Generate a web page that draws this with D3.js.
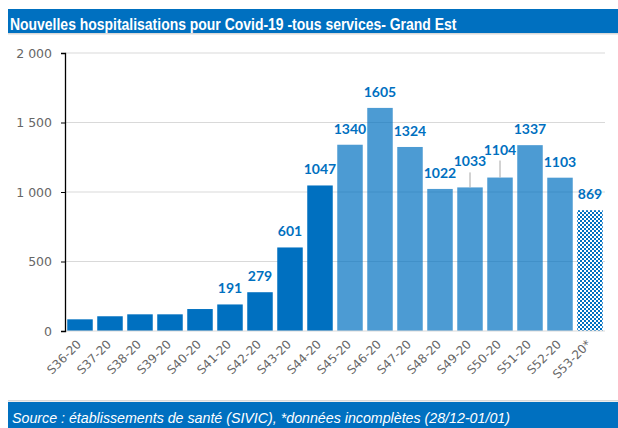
<!DOCTYPE html>
<html>
<head>
<meta charset="utf-8">
<script src="https://cdn.jsdelivr.net/npm/d3@7"></script>
<style>
  body { margin: 0; background: #fff; }
  svg { display: block; }
</style>
</head>
<body>
<svg width="618" height="428"></svg>
<script>
// weeks + new hospitalisations
var semaines = ["S36-20","S37-20","S38-20","S39-20","S40-20","S41-20","S42-20","S43-20","S44-20",
                "S45-20","S46-20","S47-20","S48-20","S49-20","S50-20","S51-20","S52-20","S53-20*"];
var hospit = [84, 106, 120, 120, 158, 191, 279, 601, 1047,
              1340, 1605, 1324, 1022, 1033, 1104, 1337, 1103, 869];
// which labels are shown ("" = none)
var etiquettes = ["", "", "", "", "", "191", "279", "601", "1047",
                  "1340", "1605", "1324", "1022", "1033", "1104", "1337", "1103", "869"];
// 0 = dark, 1 = light, 2 = incomplete (pattern)
var style = [0,0,0,0,0,0,0,0,0, 1,1,1,1,1,1,1,1, 2];
var yTicks = [0, 500, 1000, 1500, 2000];

var titre = "Nouvelles hospitalisations pour Covid-19 -tous services- Grand Est";
var source = "Source : établissements de santé (SIVIC), *données incomplètes (28/12-01/01)";

var svg = d3.select("svg");
var bleu = "#0070C0";

var defs = svg.append("defs");
var pat = defs.append("pattern").attr("id", "damier")
  .attr("width", 4).attr("height", 4).attr("patternUnits", "userSpaceOnUse");
pat.append("rect").attr("width", 4).attr("height", 4).attr("fill", "#fff");
pat.append("rect").attr("width", 2).attr("height", 2).attr("fill", bleu);
pat.append("rect").attr("x", 2).attr("y", 2).attr("width", 2).attr("height", 2).attr("fill", bleu);

// title band
svg.append("rect").attr("x", 8).attr("y", 9).attr("width", 610).attr("height", 24).attr("fill", bleu);
svg.append("rect").attr("x", 8).attr("y", 33).attr("width", 610).attr("height", 1.5).attr("fill", "#d9d9d9");
var t = svg.append("text").attr("x", 0).attr("y", 0)
  .attr("fill", "#fff").attr("font-family", "'Liberation Sans Narrow', 'Arial Narrow', 'Liberation Sans', Arial, sans-serif")
  .attr("font-weight", "bold").attr("font-size", 16.5).text(titre);
var tw = t.node().getComputedTextLength();
t.attr("transform", "translate(10,30) scale(" + (447 / tw) + ",1)");

// footer band
svg.append("rect").attr("x", 8).attr("y", 400).attr("width", 610).attr("height", 1.5).attr("fill", "#d9d9d9");
svg.append("rect").attr("x", 8).attr("y", 402).attr("width", 610).attr("height", 26).attr("fill", bleu);
var s = svg.append("text").attr("x", 12).attr("y", 422.5)
  .attr("fill", "#fff").attr("font-family", "'Liberation Sans', Arial, sans-serif")
  .attr("font-style", "italic").attr("font-size", 14).text(source);
var sw = s.node().getComputedTextLength();
s.attr("font-size", 14 * 498 / sw);

// scales
var x = d3.scaleBand().domain(semaines).range([65, 605]).paddingInner(0.15).paddingOuter(0.075);
var y = d3.scaleLinear().domain([0, 2000]).range([331, 53]);

// grid
svg.append("g").selectAll("line").data(yTicks.slice(1)).enter().append("line")
  .attr("x1", 65).attr("x2", 605)
  .attr("y1", function(d) { return y(d); }).attr("y2", function(d) { return y(d); })
  .attr("stroke", "#d9d9d9").attr("stroke-width", 1.2);

// bars
svg.append("g").selectAll("rect").data(hospit).enter().append("rect")
  .attr("x", function(d, i) { return x(semaines[i]); })
  .attr("y", function(d) { return y(d); })
  .attr("width", x.bandwidth())
  .attr("height", function(d) { return y(0) - y(d); })
  .attr("fill", function(d, i) { return style[i] == 2 ? "url(#damier)" : bleu; })
  .attr("fill-opacity", function(d, i) { return style[i] == 1 ? 0.7 : 1; });

// x axis line
svg.append("line").attr("x1", 65).attr("x2", 605).attr("y1", y(0)).attr("y2", y(0))
  .attr("stroke", "#d9d9d9").attr("stroke-width", 1.2);

// y axis
var yAxis = d3.axisLeft(y).tickValues(yTicks).tickSize(4).tickPadding(9)
  .tickFormat(function(d) { return d3.format(",")(d).replace(",", " "); });
var ga = svg.append("g").attr("transform", "translate(65,0)").call(yAxis);
ga.select(".domain").attr("stroke", "#000").attr("stroke-width", 1.3);
ga.selectAll(".tick line").attr("stroke", "#000");
ga.selectAll("text").attr("fill", "#666").attr("font-size", 12.5)
  .attr("font-family", "'DejaVu Sans', Verdana, sans-serif");

// x labels
svg.append("g").selectAll("text").data(semaines).enter().append("text")
  .attr("transform", function(d) {
    return "translate(" + (x(d) + x.bandwidth() / 2 + 2) + "," + 345 + ") rotate(-45)";
  })
  .attr("text-anchor", "end")
  .attr("fill", "#666").attr("font-size", 12)
  .attr("font-family", "'DejaVu Sans', Verdana, sans-serif")
  .text(function(d) { return d; });

// leader lines for shifted labels (1033, 1104)
var decal = {13: 10, 14: 12};
Object.keys(decal).forEach(function(k) {
  var i = +k;
  var cx = x(semaines[i]) + x.bandwidth() / 2;
  svg.append("line").attr("x1", cx).attr("x2", cx)
    .attr("y1", y(hospit[i]) - decal[i] - 5).attr("y2", y(hospit[i]))
    .attr("stroke", "#a6a6a6").attr("stroke-width", 1);
});

// data labels
svg.append("g").selectAll("text").data(hospit).enter().append("text")
  .attr("x", function(d, i) { return x(semaines[i]) + x.bandwidth() / 2; })
  .attr("y", function(d, i) { return y(d) - 11 - (decal[i] || 0); })
  .attr("text-anchor", "middle")
  .attr("fill", bleu).attr("font-weight", "bold").attr("font-size", 14)
  .attr("font-family", "Lato, 'Open Sans', sans-serif")
  .text(function(d, i) { return etiquettes[i]; });
</script>
</body>
</html>
